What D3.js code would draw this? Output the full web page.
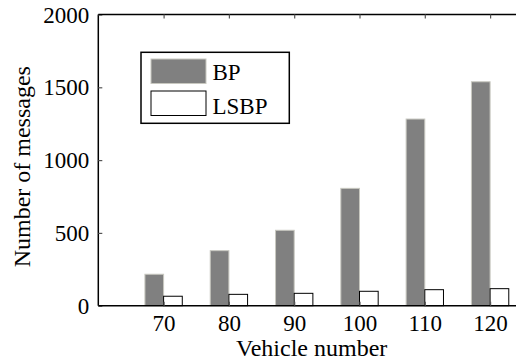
<!DOCTYPE html>
<html><head><meta charset="utf-8">
<script src="https://cdn.jsdelivr.net/npm/d3@7"></script>
<style>
html,body{margin:0;padding:0;background:#fff;}
svg{display:block;}
</style></head>
<body><svg id="c" width="516" height="364"></svg>
<script>
const categories = [70, 80, 90, 100, 110, 120];
const bpValues = [216, 378, 518, 806, 1282, 1538];
const lsbpValues = [65, 78, 85, 99, 110, 117];
const yTicks = [0, 500, 1000, 1500, 2000];
const seriesNames = ["BP", "LSBP"];

(function () {
const FONT = "Liberation Serif";
const svg = d3.select("#c").attr("font-family", FONT);
const x = d3.scaleLinear().domain([60, 130]).range([98.3, 555.4]);
const y = d3.scaleLinear().domain([0, 2000]).range([305.7, 14.5]);
const barW = x(62.86) - x(60);

// bars
const g = svg.append("g");
g.selectAll(".bp").data(categories).join("rect")
  .attr("x", (d) => x(d) - barW)
  .attr("y", (d, i) => y(bpValues[i]))
  .attr("width", barW)
  .attr("height", (d, i) => y(0) - y(bpValues[i]))
  .attr("fill", "#808080").attr("stroke", "#c8c8c0").attr("stroke-width", 1);
g.selectAll(".ls").data(categories).join("rect")
  .attr("x", (d) => x(d))
  .attr("y", (d, i) => y(lsbpValues[i]))
  .attr("width", barW)
  .attr("height", (d, i) => y(0) - y(lsbpValues[i]))
  .attr("fill", "#fff").attr("stroke", "#000").attr("stroke-width", 1);

// axes
const axLeft = d3.axisLeft(y).tickValues(yTicks).tickSize(-4).tickPadding(9).tickFormat(d3.format("d"));
const gl = svg.append("g").attr("transform", `translate(${x(60)},0)`).call(axLeft);
const axBottom = d3.axisBottom(x).tickValues(categories).tickSize(-4).tickPadding(10).tickFormat(d3.format("d"));
const gb = svg.append("g").attr("transform", `translate(0,${y(0)})`).call(axBottom);
const axTop = d3.axisTop(x).tickValues(categories).tickSize(-4).tickFormat("");
const gt = svg.append("g").attr("transform", `translate(0,${y(2000)})`).call(axTop);
[gl, gb, gt].forEach(a => {
  a.attr("font-family", FONT).attr("font-size", 23);
  a.select(".domain").attr("stroke", "#000").attr("stroke-width", 1.5);
  a.selectAll(".tick line").attr("stroke", "#555").attr("stroke-width", 1.2);
  a.selectAll("text").attr("font-family", FONT).attr("font-size", 23).attr("fill", "#000");
});
gl.select(".domain").attr("d", `M0,${y(0)}V${y(2000)}`);
gb.select(".domain").attr("d", `M${x(60)},0H${x(130)}`);
gt.select(".domain").attr("d", `M${x(60)},0H${x(130)}`);
gb.selectAll(".tick text").attr("y", 0).attr("dy", "0").attr("transform", "translate(0,25)");
gl.selectAll(".tick text").attr("dy", "0.33em");

// axis labels
svg.append("text").attr("x", 311.7).attr("y", 356).attr("text-anchor", "middle")
  .attr("font-family", FONT).attr("font-size", 24).text("Vehicle number");
svg.append("text").attr("transform", "translate(30,166.7) rotate(-90)").attr("text-anchor", "middle")
  .attr("font-family", FONT).attr("font-size", 24).text("Number of messages");

// legend
const lg = svg.append("g");
lg.append("rect").attr("x", 141).attr("y", 52.3).attr("width", 148.3).attr("height", 71)
  .attr("fill", "#fff").attr("stroke", "#000").attr("stroke-width", 1.5);
const swFill = ["#808080", "#fff"], swStroke = ["#c8c8c0", "#000"];
seriesNames.forEach((n, i) => {
  lg.append("rect").attr("x", 151).attr("y", 59 + i * 32).attr("width", 55).attr("height", 24.5)
    .attr("fill", swFill[i]).attr("stroke", swStroke[i]).attr("stroke-width", 1);
  lg.append("text").attr("x", 212.5).attr("y", 80 + i * 34)
    .attr("font-family", FONT).attr("font-size", 23).text(n);
});
})();
</script></body></html>
